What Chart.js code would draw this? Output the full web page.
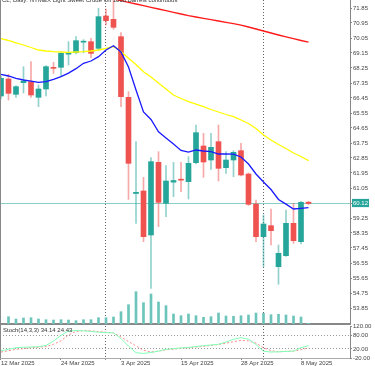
<!DOCTYPE html>
<html>
<head>
<meta charset="utf-8">
<script src="https://cdn.jsdelivr.net/npm/chart.js@4.4.0/dist/chart.umd.min.js"></script>
<style>
  html, body { margin: 0; padding: 0; background: #fff; }
  body { width: 375px; height: 366px; position: relative; overflow: hidden; font-family: 'Liberation Sans', Arial, sans-serif; }
  #main { position: absolute; left: 0; top: 0; }
  #stoch { position: absolute; left: 0; top: 318px; }
  .cap { position: absolute; font-size: 6px; color: #333; white-space: nowrap; line-height: 7px; }
  #edge { position: absolute; left: 0; top: 0; width: 1px; height: 358px; background: #888; }
</style>
</head>
<body>
<canvas id="main" width="375" height="326"></canvas>
<canvas id="stoch" width="375" height="48"></canvas>
<div id="edge"></div>
<div class="cap" style="left:2px; top:-3px;">CL, Daily:  NYMEX Light Sweet Crude Oil 1000 Barrels continuous</div>
<div class="cap" style="left:3px; top:327px;">Stoch(14,3,3) 34.14 24.43</div>
<script>
'use strict'

// trading days shown (2025)
const dates = ['12 Mar','13 Mar','14 Mar','17 Mar','18 Mar','19 Mar','20 Mar','21 Mar','24 Mar','25 Mar',
    '26 Mar','27 Mar','28 Mar','31 Mar','1 Apr','2 Apr','3 Apr','4 Apr','7 Apr','8 Apr',
    '9 Apr','10 Apr','11 Apr','14 Apr','15 Apr','16 Apr','17 Apr','21 Apr','22 Apr','23 Apr',
    '24 Apr','25 Apr','28 Apr','29 Apr','30 Apr','1 May','2 May','5 May','6 May','7 May',
    '8 May','9 May'];

const openP  = [66.57,67.59,66.67,67.37,67.43,66.49,66.99,68.28,68.29,69.08,
    69.17,69.80,69.83,69.43,71.37,71.17,70.13,66.49,60.72,60.87,
    58.23,62.59,60.13,61.40,61.58,61.43,62.57,63.57,62.73,63.83,
    62.27,62.73,63.29,61.89,60.09,58.13,58.79,56.33,56.99,58.93,
    57.83,60.20];
const highP  = [67.75,67.87,67.20,68.33,68.63,67.23,68.40,68.59,69.20,69.83,
    70.13,69.95,70.03,71.83,71.79,72.40,70.37,66.83,63.83,61.69,
    62.87,63.23,62.39,62.59,62.59,62.93,64.83,64.33,64.33,64.83,
    63.23,63.29,63.73,61.95,60.33,59.43,59.79,57.63,59.73,60.13,
    60.25,60.25];
const lowP   = [66.40,66.33,66.49,66.75,66.49,65.93,66.57,67.93,67.73,68.43,
    69.09,69.15,68.87,69.30,70.83,70.57,65.93,60.37,58.93,57.83,
    55.03,58.73,59.33,60.53,60.83,60.39,62.50,61.69,62.17,61.47,
    61.93,61.73,61.77,60.00,57.83,56.33,57.63,55.27,56.95,57.73,
    57.69,60.05];
const closeP = [67.63,66.73,67.13,67.47,66.63,66.99,68.33,68.23,69.13,69.15,
    69.89,69.86,69.13,71.33,71.09,70.69,66.53,62.53,60.79,58.13,
    62.63,60.19,61.47,61.50,61.52,62.53,64.37,62.61,63.49,62.23,
    62.73,63.19,61.83,60.07,58.13,58.89,58.49,57.13,58.93,57.89,
    60.19,60.12];

const volume = [null,73,50,60,63,50,43,40,43,40,
    33,43,43,63,63,70,123,193,323,213,
    300,220,183,100,83,100,83,67,73,110,
    80,77,83,90,110,107,93,97,90,80,
    70,7];

// moving averages
const maSlow = [null,null,null,null,null,null,null,null,null,null,
    null,null,null,null,72.49,72.39,72.29,72.19,72.09,71.99,
    71.89,71.79,71.69,71.59,71.49,71.39,71.31,71.23,71.15,71.07,
    70.99,70.91,70.82,70.71,70.59,70.47,70.35,70.23,70.12,70.01,
    69.90,69.80];
const maMid = [70.01,69.90,69.76,69.63,69.48,69.33,69.27,69.23,69.21,69.19,
    69.21,69.23,69.27,69.33,69.43,69.54,69.24,68.83,68.46,68.03,
    67.71,67.35,66.99,66.63,66.42,66.23,66.08,65.93,65.76,65.61,
    65.46,65.33,65.13,64.92,64.62,64.23,63.93,63.66,63.42,63.15,
    62.94,62.69];
const maFast = [67.87,67.77,67.63,67.53,67.46,67.39,67.43,67.57,67.73,67.94,
    68.21,68.53,68.67,68.93,69.33,69.59,69.21,68.31,66.93,65.61,
    65.16,64.42,64.05,63.69,63.30,63.20,63.33,63.27,63.23,63.09,
    63.09,63.08,62.91,62.49,61.89,61.41,60.96,60.36,60.08,59.79,
    59.83,59.87];

// stochastic (14,3,3)
const stochMain = [11.8,17.9,25,27,28,29.5,35,54,79,98,
    100,99,96,93,91,90,65,32,3,0,
    4,10,18,21,24,26,30,34,37,40,
    50,62,69,62,39,10,6,7,9,10,
    25,34.14];
const stochSignal = [6,11.8,17.9,21,25,26.5,30,40,55,81,
    96,100,99,96,93,90,72,52,33,14,
    6,10,16,18,23,25,28,31,35,39,
    45,51,57,55,45,25,12,7,9,10,
    16,24.43];

// axis ticks
const priceTicks = [71.85,70.95,70.05,69.15,68.25,67.35,66.45,65.55,64.65,63.75,
    62.85,61.95,61.05,59.25,58.35,57.45,56.55,55.65,54.75,53.85];
const stochTicks = [120,80,20,-20];
const stochLevels = [80,20];
const dateTicks = [0,8,16,24,32,40];
const monthStarts = [14,35];

const lastPrice = closeP[closeP.length - 1];
const xMin = -0.133;
const xMax = 46.533;

const bull = '#26a69a';
const bear = '#ef5350';

Chart.defaults.font.family = "'Liberation Sans', Arial, sans-serif";
Chart.defaults.font.size = 6;
Chart.defaults.color = '#444';

const idx = dates.map((d, i) => i);
const isBull = idx.map(i => closeP[i] >= openP[i]);

function fixWidth(scale) {
    scale.width = 25;
    scale.paddingTop = 0;
    scale.paddingBottom = 0;
}

new Chart(document.getElementById('main'), {
    data: {
        datasets: [
            {
                type: 'line',
                data: [{x: xMin, y: lastPrice}, {x: xMax, y: lastPrice}],
                borderColor: 'rgba(38,166,154,0.55)',
                borderWidth: 1,
                pointRadius: 0,
                order: 9
            },
            {
                type: 'bar',
                yAxisID: 'yv',
                data: idx.map(i => ({x: i, y: volume[i]})),
                backgroundColor: '#6cc4bb',
                barThickness: 2,
                grouped: false,
                order: 10
            },
            {
                type: 'bar',
                data: idx.map(i => ({x: i, y: [lowP[i], highP[i]]})),
                backgroundColor: idx.map(i => isBull[i] ? 'rgba(38,166,154,0.5)' : 'rgba(239,83,80,0.5)'),
                barThickness: 1,
                grouped: false,
                order: 8
            },
            {
                type: 'bar',
                data: idx.map(i => ({x: i, y: [openP[i], closeP[i]]})),
                backgroundColor: idx.map(i => isBull[i] ? bull : bear),
                barThickness: 5,
                minBarLength: 1,
                grouped: false,
                order: 7
            },
            {
                type: 'line',
                data: idx.map(i => ({x: i, y: maSlow[i]})),
                borderColor: '#ff1a1a',
                borderWidth: 1.3,
                pointRadius: 0,
                order: 3
            },
            {
                type: 'line',
                data: idx.map(i => ({x: i, y: maMid[i]})),
                borderColor: '#ffff00',
                borderWidth: 1.3,
                pointRadius: 0,
                order: 2
            },
            {
                type: 'line',
                data: idx.map(i => ({x: i, y: maFast[i]})),
                borderColor: '#1a1aff',
                borderWidth: 1.3,
                pointRadius: 0,
                order: 1
            }
        ]
    },
    options: {
        responsive: false,
        animation: false,
        layout: {padding: 0},
        plugins: {legend: {display: false}, tooltip: {enabled: false}},
        scales: {
            x: {
                type: 'linear',
                min: xMin,
                max: xMax,
                offset: false,
                afterBuildTicks: s => { s.ticks = monthStarts.map(v => ({value: v})); },
                afterFit: s => { s.height = 2; },
                ticks: {display: false},
                grid: {offset: false, drawTicks: false, color: '#666', lineWidth: 1},
                border: {display: true, color: '#888', width: 2, dash: [1, 2]}
            },
            y: {
                position: 'right',
                min: 52.89,
                max: 72.33,
                afterBuildTicks: s => { s.ticks = priceTicks.concat([lastPrice]).map(v => ({value: v})); },
                afterFit: fixWidth,
                ticks: {
                    padding: 1,
                    callback: v => v.toFixed(2),
                    showLabelBackdrop: true,
                    backdropColor: ctx => ctx.tick.value === lastPrice ? bull : 'rgba(0,0,0,0)',
                    backdropPadding: {left: 1, right: 1, top: 1, bottom: 0},
                    color: ctx => ctx.tick.value === lastPrice ? '#fff' : '#444'
                },
                grid: {drawOnChartArea: false, tickLength: 2, color: '#888'},
                border: {display: true, color: '#888'}
            },
            yv: {display: false, min: 0, max: 3240}
        }
    }
});

new Chart(document.getElementById('stoch'), {
    data: {
        datasets: [
            {
                type: 'line',
                data: idx.map(i => ({x: i, y: stochSignal[i]})),
                borderColor: '#ff8a8a',
                borderWidth: 1,
                borderDash: [2, 2],
                pointRadius: 0,
                order: 2
            },
            {
                type: 'line',
                data: idx.map(i => ({x: i, y: stochMain[i]})),
                borderColor: '#80ffb4',
                borderWidth: 1,
                pointRadius: 0,
                order: 1
            }
        ]
    },
    options: {
        responsive: false,
        animation: false,
        layout: {padding: {top: 8}},
        plugins: {legend: {display: false}, tooltip: {enabled: false}},
        scales: {
            x: {
                type: 'linear',
                min: xMin,
                max: xMax,
                offset: false,
                afterBuildTicks: s => { s.ticks = dateTicks.concat(monthStarts).sort((a, b) => a - b).map(v => ({value: v})); },
                afterFit: s => { s.height = 8; },
                ticks: {
                    autoSkip: false,
                    maxRotation: 0,
                    align: 'start',
                    padding: 0,
                    callback: v => dateTicks.includes(v) ? dates[v] + ' 2025' : ''
                },
                grid: {
                    offset: false,
                    tickLength: 2,
                    color: ctx => monthStarts.includes(ctx.tick.value) ? '#666' : 'rgba(0,0,0,0)',
                    tickColor: '#888'
                },
                border: {display: true, color: '#aaa', dash: [1, 2]}
            },
            y: {
                position: 'right',
                min: -20,
                max: 120,
                afterBuildTicks: s => { s.ticks = stochTicks.map(v => ({value: v})); },
                afterFit: fixWidth,
                ticks: {padding: 1, callback: v => v.toFixed(2)},
                grid: {
                    tickLength: 2,
                    color: ctx => stochLevels.includes(ctx.tick.value) ? '#999' : 'rgba(0,0,0,0)',
                    tickColor: '#888'
                },
                border: {display: true, color: '#888', dash: [1, 2]}
            }
        }
    }
});
</script>
</body>
</html>
